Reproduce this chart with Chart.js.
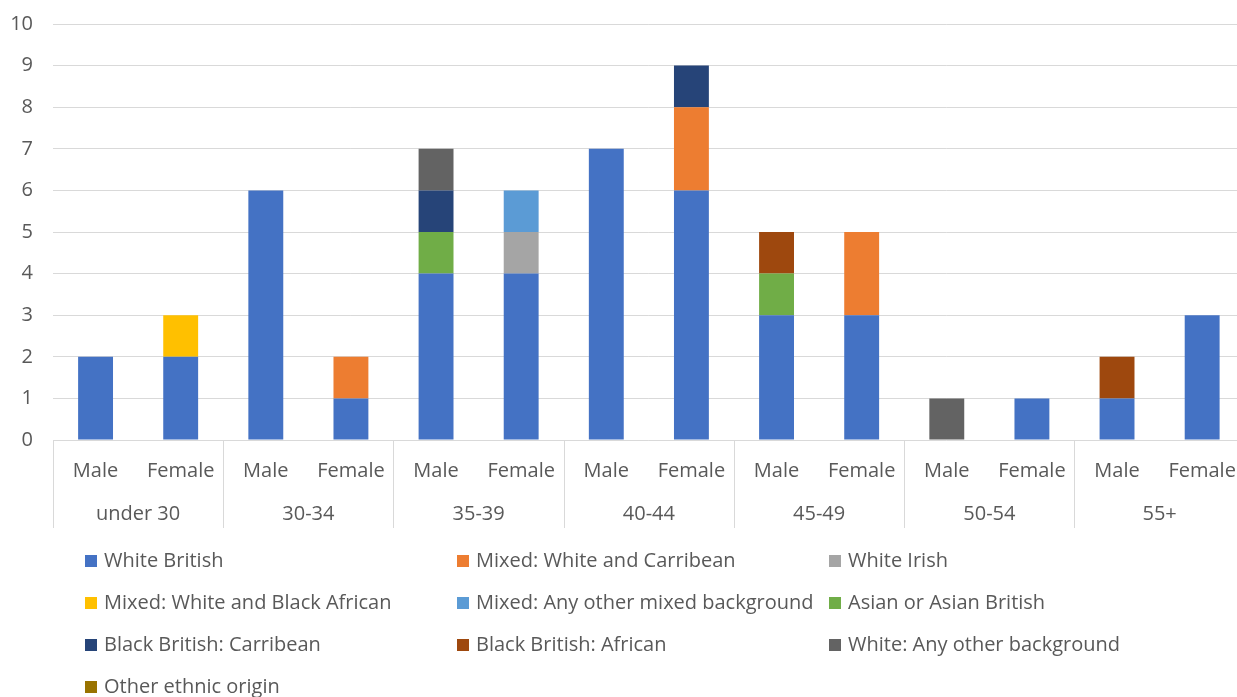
<!DOCTYPE html>
<html>
<head>
<meta charset="utf-8">
<title>Staff by age band, gender and ethnicity</title>
<script src="https://cdn.jsdelivr.net/npm/chart.js@4/dist/chart.umd.min.js"></script>
<style>
  html, body { margin: 0; padding: 0; background: #fff; overflow: hidden; }
  #wrap { position: relative; width: 1255px; height: 697px; }
</style>
</head>
<body>
<div id="wrap"><canvas id="ethnicChart"></canvas></div>
<script>
// categories
const genders = ['Male', 'Female', 'Male', 'Female', 'Male', 'Female', 'Male', 'Female',
                 'Male', 'Female', 'Male', 'Female', 'Male', 'Female'];
const ageBands = ['under 30', '30-34', '35-39', '40-44', '45-49', '50-54', '55+'];

// series, one value per gender within each age band
const whiteBritish      = [2, 2, 6, 1, 4, 4, 7, 6, 3, 3, 0, 1, 1, 3];
const mixedWhiteCarib   = [0, 0, 0, 1, 0, 0, 0, 2, 0, 2, 0, 0, 0, 0];
const whiteIrish        = [0, 0, 0, 0, 0, 1, 0, 0, 0, 0, 0, 0, 0, 0];
const mixedWhiteBlackAf = [0, 1, 0, 0, 0, 0, 0, 0, 0, 0, 0, 0, 0, 0];
const mixedOther        = [0, 0, 0, 0, 0, 1, 0, 0, 0, 0, 0, 0, 0, 0];
const asianBritish      = [0, 0, 0, 0, 1, 0, 0, 0, 1, 0, 0, 0, 0, 0];
const blackCarib        = [0, 0, 0, 0, 1, 0, 0, 1, 0, 0, 0, 0, 0, 0];
const blackAfrican      = [0, 0, 0, 0, 0, 0, 0, 0, 1, 0, 0, 0, 1, 0];
const whiteOther        = [0, 0, 0, 0, 1, 0, 0, 0, 0, 0, 1, 0, 0, 0];
const otherEthnic       = [0, 0, 0, 0, 0, 0, 0, 0, 0, 0, 0, 0, 0, 0];

const yTicks = [0, 1, 2, 3, 4, 5, 6, 7, 8, 9, 10];

const FONT = '"Open Sans", Lato, sans-serif';
const SIZE = 20;
const TEXT = '#595959';
const GRID = '#d9d9d9';

const series = [
  { label: 'White British', data: whiteBritish, color: '#4472c4' },
  { label: 'Mixed: White and Carribean', data: mixedWhiteCarib, color: '#ed7d31' },
  { label: 'White Irish', data: whiteIrish, color: '#a5a5a5' },
  { label: 'Mixed: White and Black African', data: mixedWhiteBlackAf, color: '#ffc000' },
  { label: 'Mixed: Any other mixed background', data: mixedOther, color: '#5b9bd5' },
  { label: 'Asian or Asian British', data: asianBritish, color: '#70ad47' },
  { label: 'Black British: Carribean', data: blackCarib, color: '#264478' },
  { label: 'Black British: African', data: blackAfrican, color: '#9e480e' },
  { label: 'White: Any other background', data: whiteOther, color: '#636363' },
  { label: 'Other ethnic origin', data: otherEthnic, color: '#997300' }
];

// vertical separators between age bands, running down through both label rows
const groupLines = {
  id: 'groupLines',
  afterDraw(chart) {
    const ctx = chart.ctx;
    const x2 = chart.scales.x2;
    const half = (x2.getPixelForValue(1) - x2.getPixelForValue(0)) / 2;
    ctx.save();
    ctx.strokeStyle = GRID;
    ctx.lineWidth = 1;
    for (let i = 0; i <= ageBands.length; i++) {
      const px = Math.round(x2.getPixelForValue(i) - half) + 0.5;
      ctx.beginPath();
      ctx.moveTo(px, chart.chartArea.bottom);
      ctx.lineTo(px, 528);
      ctx.stroke();
    }
    ctx.restore();
  }
};

// three-column legend under the axis
const gridLegend = {
  id: 'gridLegend',
  afterDraw(chart) {
    const ctx = chart.ctx;
    const cols = [85, 457, 829];
    const rowTop = 561, rowGap = 42;
    ctx.save();
    ctx.font = SIZE + 'px ' + FONT;
    ctx.textBaseline = 'middle';
    chart.data.datasets.forEach((ds, i) => {
      const x = cols[i % 3];
      const y = rowTop + Math.floor(i / 3) * rowGap;
      ctx.fillStyle = ds.backgroundColor;
      ctx.fillRect(x, y - 6, 12, 12);
      ctx.fillStyle = TEXT;
      ctx.fillText(ds.label, x + 19, y);
    });
    ctx.restore();
  }
};

new Chart(document.getElementById('ethnicChart'), {
  type: 'bar',
  data: {
    labels: genders,
    datasets: series.map(s => ({
      label: s.label,
      data: s.data,
      backgroundColor: s.color,
      borderWidth: 0,
      barPercentage: 0.82,
      categoryPercentage: 0.5,
      xAxisID: 'x'
    }))
  },
  options: {
    responsive: true,
    maintainAspectRatio: false,
    animation: false,
    layout: { padding: { top: 24, right: 3, bottom: 157, left: 0 } },
    plugins: {
      legend: { display: false },
      tooltip: { enabled: false }
    },
    scales: {
      y: {
        stacked: true,
        min: 0,
        max: 10,
        afterBuildTicks: axis => { axis.ticks = yTicks.map(v => ({ value: v })); },
        ticks: { color: TEXT, font: { family: FONT, size: SIZE }, padding: 0 },
        // invisible tick marks keep the labels clear of the plot
        grid: { color: GRID, lineWidth: 1, drawTicks: true, tickLength: 20,
                tickColor: 'rgba(0,0,0,0)' },
        border: { display: false },
        afterFit: axis => { axis.width = 53; }
      },
      x: {
        stacked: true,
        position: 'bottom',
        ticks: { color: TEXT, font: { family: FONT, size: SIZE }, padding: 19,
                 maxRotation: 0, autoSkip: false },
        grid: { display: false, drawTicks: false },
        border: { display: false },
        afterFit: axis => { axis.height = 50; }
      },
      x2: {
        type: 'category',
        position: 'bottom',
        labels: ageBands,
        offset: true,
        ticks: { color: TEXT, font: { family: FONT, size: SIZE }, padding: 12,
                 maxRotation: 0, autoSkip: false },
        grid: { display: false, drawTicks: false },
        border: { display: false },
        afterFit: axis => { axis.height = 50; }
      }
    }
  },
  plugins: [groupLines, gridLegend]
});
</script>
</body>
</html>
